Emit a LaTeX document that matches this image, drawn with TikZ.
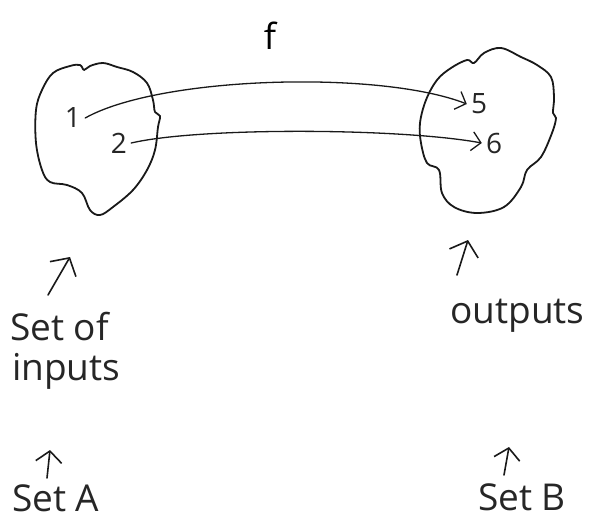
\documentclass[tikz,border=0pt]{standalone}
\usepackage{fontspec}
\setmainfont{Open Sans}
\usetikzlibrary{arrows.meta}
\begin{document}
\begin{tikzpicture}[x=1pt,y=-1pt,
  ink/.style={line width=1.8pt, line cap=round, line join=round, draw=black!90},
  lbl/.style={inner sep=0pt, anchor=base west, font=\fontsize{37}{40}\selectfont, text=black!85},
  num/.style={inner sep=4pt, font=\fontsize{28}{30}\selectfont, text=black!85},
  maparrow/.style={ink, line width=1.3pt, -{Straight Barb[length=9pt,width=19pt]}},
  uparrow/.style={ink, line width=1.6pt, -{Straight Barb[length=13pt,width=30pt]}},
  smalluparrow/.style={ink, line width=1.6pt, -{Straight Barb[length=11pt,width=26pt]}}]

\fill[white] (0,0) rectangle (608,522);
\useasboundingbox (0,0) rectangle (608,522);

% set A blob
\draw[ink] plot[smooth cycle, tension=0.6] coordinates {(80,65) (84,70) (90,66) (103,63) (117,67) (133,72) (147,83) (153,100) (155,112) (160,116) (158,127) (155,150) (147,170) (133,190) (113,207) (100,215) (90,210) (82,193) (67,185) (50,182) (42,170) (36,143) (36,110) (42,90) (53,73) (70,66)};
% set B blob
\draw[ink] plot[smooth cycle, tension=0.6] coordinates {(501,48) (521,57) (537,65) (551,77) (554,97) (553,113) (556,118) (552,133) (541,157) (527,170) (521,187) (504,207) (477,213) (454,207) (442,193) (439,170) (427,163) (421,143) (420,123) (426,100) (437,80) (451,68) (467,60) (474,63) (484,53)};

\node[font=\fontsize{36}{36}\selectfont] (f) at (270,36) {f};
\node[num] (n1) at (73,118) {1};
\node[num] (n2) at (119,143) {2};
\node[num] (n5) at (479,104) {5};
\node[num] (n6) at (494,143) {6};

\draw[maparrow] (n1.east) .. controls (160,76) and (380,70) .. (n5.west);
\draw[maparrow] (n2.east) .. controls (200,127) and (400,128) .. (n6.west);

\node[lbl] (setof) at (10,340) {Set of};
\node[lbl] (inputs) at (12,380) {inputs};
\node[lbl] (outputs) at (450,323) {outputs};
\node[lbl] (seta) at (12,511) {Set A};
\node[lbl] (setb) at (478,510) {Set B};

\coordinate (tipA) at (70,257);
\coordinate (tipO) at (468,240);
\coordinate (tipSA) at (50,450);
\coordinate (tipSB) at (509,447);
\coordinate (footA) at (48,295);
\coordinate (footO) at (457,275);
\coordinate (footSA) at (47,478);
\coordinate (footSB) at (504,475);

\draw[uparrow] (footA) -- (tipA);
\draw[uparrow] (footO) -- (tipO);
\draw[smalluparrow] (footSA) -- (tipSA);
\draw[smalluparrow] (footSB) -- (tipSB);
\end{tikzpicture}
\end{document}
